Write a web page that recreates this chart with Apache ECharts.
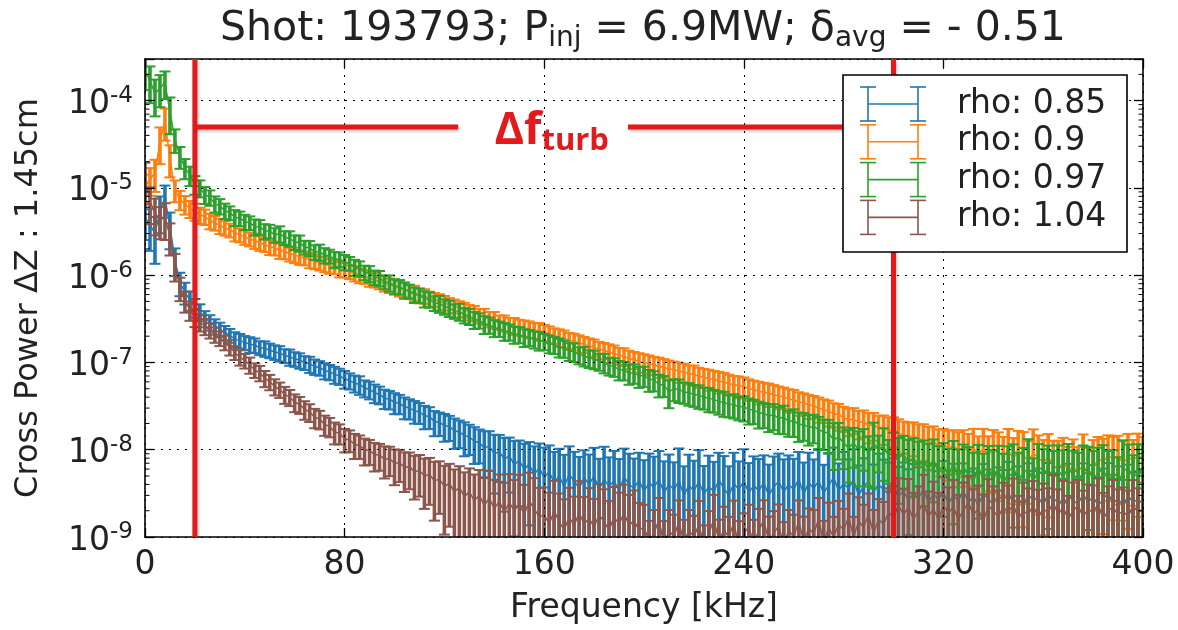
<!DOCTYPE html>
<html>
<head>
<meta charset="utf-8">
<script src="https://cdn.jsdelivr.net/npm/echarts@6/dist/echarts.min.js"></script>
<style>
  html, body { margin: 0; padding: 0; background: #fff; }
  #chart { width: 1178px; height: 630px; }
</style>
</head>
<body>
<div id="chart"></div>
<script>
// Cross-power spectra of the ΔZ = 1.45 cm channel pair, one curve per radial position.
// Spectra are sampled every 2 kHz from 0 to 400 kHz.
const FREQ_STEP_KHZ = 2;

const seriesNames = ['rho: 0.85', 'rho: 0.9', 'rho: 0.97', 'rho: 1.04'];
const seriesColors = ['#1f77b4', '#ff7f0e', '#2ca02c', '#8c564b'];

// rho = 0.85
const power085 = [
  4.6e-6, 3.8e-6, 3.0e-6, 5.5e-6, 7.6e-6, 3.6e-6, 1.5e-6, 8.2e-7, 6.4e-7, 5.2e-7,
  4.3e-7, 3.8e-7, 3.2e-7, 2.9e-7, 2.6e-7, 2.4e-7, 2.2e-7, 2.05e-7, 1.85e-7, 1.78e-7,
  1.7e-7, 1.62e-7, 1.58e-7, 1.48e-7, 1.45e-7, 1.38e-7, 1.32e-7, 1.28e-7, 1.2e-7, 1.16e-7,
  1.1e-7, 1.06e-7, 1.0e-7, 9.6e-8, 9.0e-8, 8.7e-8, 8.1e-8, 7.8e-8, 7.3e-8, 7.0e-8,
  6.5e-8, 6.2e-8, 5.8e-8, 5.6e-8, 5.1e-8, 4.9e-8, 4.5e-8, 4.3e-8, 3.9e-8, 3.8e-8,
  3.5e-8, 3.4e-8, 3.1e-8, 3.0e-8, 2.8e-8, 2.7e-8, 2.45e-8, 2.4e-8, 2.1e-8, 2.05e-8,
  1.9e-8, 1.85e-8, 1.65e-8, 1.6e-8, 1.45e-8, 1.4e-8, 1.25e-8, 1.2e-8, 1.05e-8, 1.1e-8,
  9.0e-9, 9.5e-9, 7.8e-9, 8.5e-9, 6.8e-9, 7.5e-9, 6.0e-9, 6.8e-9, 5.2e-9, 6.2e-9,
  4.8e-9, 5.6e-9, 4.2e-9, 5.0e-9, 3.8e-9, 5.2e-9, 4.4e-9, 3.6e-9, 4.8e-9, 4.0e-9,
  5.0e-9, 3.5e-9, 4.6e-9, 3.8e-9, 4.4e-9, 3.4e-9, 4.9e-9, 4.0e-9, 3.6e-9, 4.5e-9,
  3.3e-9, 4.2e-9, 3.7e-9, 4.6e-9, 3.2e-9, 4.0e-9, 3.5e-9, 4.4e-9, 3.0e-9, 3.9e-9,
  3.4e-9, 4.3e-9, 3.1e-9, 3.8e-9, 3.3e-9, 4.5e-9, 3.6e-9, 3.0e-9, 4.1e-9, 3.5e-9,
  4.4e-9, 3.2e-9, 3.9e-9, 3.4e-9, 4.2e-9, 3.0e-9, 3.8e-9, 4.3e-9, 3.3e-9, 4.0e-9,
  3.5e-9, 4.6e-9, 3.1e-9, 4.2e-9, 3.6e-9, 4.4e-9, 3.2e-9, 3.9e-9, 4.8e-9, 3.4e-9,
  4.1e-9, 3.6e-9, 4.5e-9, 3.0e-9, 3.8e-9, 4.3e-9, 3.3e-9, 4.0e-9, 3.5e-9, 3.1e-9,
  3.7e-9, 2.9e-9, 3.4e-9, 2.6e-9, 3.2e-9, 2.8e-9, 3.5e-9, 2.5e-9, 3.1e-9, 2.7e-9,
  3.3e-9, 2.4e-9, 3.0e-9, 2.6e-9, 3.4e-9, 2.5e-9, 2.9e-9, 2.3e-9, 3.2e-9, 2.7e-9,
  2.4e-9, 3.0e-9, 2.6e-9, 3.3e-9, 2.4e-9, 2.8e-9, 2.2e-9, 3.1e-9, 2.6e-9, 2.9e-9,
  2.3e-9, 3.2e-9, 2.5e-9, 2.8e-9, 2.2e-9, 3.0e-9, 2.6e-9, 2.4e-9, 3.1e-9, 2.5e-9,
  2.9e-9, 2.3e-9, 2.7e-9, 3.2e-9, 2.4e-9, 2.8e-9, 2.2e-9, 3.0e-9, 2.5e-9, 2.7e-9,
  2.4e-9
];
const errPct085 = [
  45, 50, 55, 45, 40, 45, 35, 30, 28, 25,
  24, 22, 21, 20, 20, 19, 19, 18, 20, 19,
  18, 20, 19, 18, 20, 19, 19, 20, 18, 21,
  19, 20, 18, 21, 20, 19, 21, 20, 22, 21,
  23, 21, 22, 24, 22, 23, 24, 23, 25, 24,
  27, 25, 28, 26, 29, 27, 30, 28, 32, 30,
  35, 32, 38, 35, 42, 38, 45, 42, 55, 48,
  65, 55, 75, 62, 85, 70, 95, 80, 110, 90,
  120, 100, 125, 105, 130, 110, 115, 130, 105, 120,
  110, 125, 135, 115, 120, 130, 110, 125, 120, 105,
  130, 115, 125, 110, 130, 120, 105, 135, 115, 125,
  120, 130, 110, 125, 120, 105, 135, 115, 125, 110,
  130, 120, 115, 130, 105, 125, 120, 110, 135, 115,
  125, 105, 130, 120, 115, 125, 110, 135, 120, 105,
  130, 115, 125, 120, 110, 135, 105, 125, 120, 130,
  115, 120, 110, 130, 115, 125, 105, 135, 120, 110,
  125, 115, 130, 120, 105, 125, 110, 135, 115, 120,
  130, 110, 125, 120, 115, 130, 105, 125, 120, 110,
  135, 120, 115, 125, 110, 130, 120, 105, 125, 115,
  130, 110, 125, 120, 115, 130, 105, 125, 120, 110,
  125
];

// rho = 0.9
const power090 = [
  1.05e-5, 1.25e-5, 1.5e-5, 3.4e-5, 5.8e-5, 2.2e-5, 9.5e-6, 7.4e-6, 6.5e-6, 5.8e-6,
  5.4e-6, 4.9e-6, 4.7e-6, 4.2e-6, 4.0e-6, 3.7e-6, 3.5e-6, 3.3e-6, 3.05e-6, 2.9e-6,
  2.75e-6, 2.6e-6, 2.5e-6, 2.35e-6, 2.25e-6, 2.1e-6, 2.05e-6, 1.92e-6, 1.88e-6, 1.75e-6,
  1.72e-6, 1.62e-6, 1.58e-6, 1.5e-6, 1.45e-6, 1.38e-6, 1.35e-6, 1.28e-6, 1.25e-6, 1.18e-6,
  1.16e-6, 1.1e-6, 1.06e-6, 1.0e-6, 9.7e-7, 9.2e-7, 8.9e-7, 8.4e-7, 8.1e-7, 7.7e-7,
  7.5e-7, 7.1e-7, 6.9e-7, 6.5e-7, 6.3e-7, 5.9e-7, 5.8e-7, 5.4e-7, 5.3e-7, 5.0e-7,
  4.85e-7, 4.55e-7, 4.45e-7, 4.15e-7, 4.05e-7, 3.8e-7, 3.7e-7, 3.45e-7, 3.4e-7, 3.15e-7,
  3.1e-7, 2.9e-7, 2.85e-7, 2.7e-7, 2.65e-7, 2.55e-7, 2.5e-7, 2.42e-7, 2.35e-7, 2.3e-7,
  2.22e-7, 2.12e-7, 2.05e-7, 1.95e-7, 1.9e-7, 1.8e-7, 1.75e-7, 1.66e-7, 1.62e-7, 1.52e-7,
  1.5e-7, 1.4e-7, 1.38e-7, 1.3e-7, 1.27e-7, 1.2e-7, 1.18e-7, 1.1e-7, 1.08e-7, 1.02e-7,
  1.0e-7, 9.6e-8, 9.4e-8, 9.0e-8, 8.8e-8, 8.4e-8, 8.3e-8, 7.9e-8, 7.8e-8, 7.4e-8,
  7.3e-8, 6.9e-8, 6.8e-8, 6.5e-8, 6.4e-8, 6.1e-8, 6.0e-8, 5.7e-8, 5.6e-8, 5.4e-8,
  5.3e-8, 5.0e-8, 4.9e-8, 4.65e-8, 4.6e-8, 4.4e-8, 4.3e-8, 4.1e-8, 4.05e-8, 3.8e-8,
  3.75e-8, 3.5e-8, 3.45e-8, 3.25e-8, 3.2e-8, 3.0e-8, 2.9e-8, 2.75e-8, 2.6e-8, 2.5e-8,
  2.35e-8, 2.2e-8, 2.25e-8, 2.05e-8, 2.1e-8, 1.9e-8, 1.95e-8, 1.75e-8, 1.8e-8, 1.65e-8,
  1.7e-8, 1.55e-8, 1.5e-8, 1.4e-8, 1.45e-8, 1.3e-8, 1.35e-8, 1.2e-8, 1.25e-8, 1.1e-8,
  1.15e-8, 1.05e-8, 1.1e-8, 9.8e-9, 1.08e-8, 9.5e-9, 1.05e-8, 9.0e-9, 1.02e-8, 8.8e-9,
  1.0e-8, 9.2e-9, 8.5e-9, 9.6e-9, 8.0e-9, 9.4e-9, 8.6e-9, 7.5e-9, 9.0e-9, 8.2e-9,
  7.0e-9, 8.4e-9, 6.5e-9, 6.0e-9, 7.2e-9, 5.8e-9, 6.4e-9, 5.5e-9, 6.8e-9, 5.2e-9,
  6.0e-9, 8.0e-9, 7.2e-9, 8.6e-9, 7.8e-9, 8.4e-9, 7.0e-9, 8.2e-9, 7.6e-9, 8.5e-9,
  8.0e-9
];
const errPct090 = [
  35, 35, 40, 45, 40, 40, 28, 25, 24, 22,
  22, 21, 20, 20, 19, 20, 19, 18, 20, 18,
  19, 18, 20, 19, 18, 19, 18, 20, 19, 18,
  20, 19, 18, 20, 19, 18, 20, 19, 18, 20,
  19, 18, 20, 19, 18, 20, 19, 18, 20, 19,
  18, 20, 19, 18, 20, 19, 19, 20, 18, 21,
  19, 20, 18, 21, 19, 20, 20, 19, 21, 20,
  22, 19, 21, 20, 22, 21, 21, 22, 20, 23,
  21, 22, 20, 23, 22, 21, 22, 23, 21, 24,
  22, 23, 21, 24, 23, 22, 23, 24, 22, 25,
  24, 25, 23, 26, 24, 25, 23, 26, 24, 25,
  26, 26, 24, 27, 25, 28, 26, 27, 25, 28,
  27, 28, 26, 29, 27, 30, 28, 29, 27, 30,
  29, 30, 28, 31, 29, 32, 30, 33, 31, 34,
  32, 35, 33, 36, 34, 38, 35, 40, 37, 42,
  38, 44, 40, 46, 42, 50, 45, 52, 48, 55,
  50, 58, 52, 62, 55, 60, 65, 58, 70, 62,
  68, 72, 65, 80, 70, 75, 85, 68, 90, 78,
  85, 80, 95, 110, 90, 85, 105, 95, 120, 100,
  115, 75, 85, 70, 80, 72, 78, 85, 70, 80,
  75
];

// rho = 0.97
const power097 = [
  2.2e-4, 1.7e-4, 1.2e-4, 1.4e-4, 1.6e-4, 7.5e-5, 3.6e-5, 2.3e-5, 1.7e-5, 1.4e-5,
  1.1e-5, 1.0e-5, 8.4e-6, 7.8e-6, 6.6e-6, 6.2e-6, 5.5e-6, 5.2e-6, 4.6e-6, 4.5e-6,
  4.1e-6, 4.0e-6, 3.6e-6, 3.6e-6, 3.2e-6, 3.2e-6, 2.9e-6, 3.0e-6, 2.7e-6, 2.65e-6,
  2.4e-6, 2.35e-6, 2.1e-6, 2.05e-6, 1.85e-6, 1.85e-6, 1.7e-6, 1.66e-6, 1.52e-6, 1.53e-6,
  1.42e-6, 1.37e-6, 1.24e-6, 1.2e-6, 1.08e-6, 1.05e-6, 9.5e-7, 9.3e-7, 8.4e-7, 8.2e-7,
  7.5e-7, 7.4e-7, 6.8e-7, 6.6e-7, 6.0e-7, 5.9e-7, 5.4e-7, 5.3e-7, 4.8e-7, 4.75e-7,
  4.4e-7, 4.2e-7, 3.9e-7, 3.85e-7, 3.5e-7, 3.4e-7, 3.1e-7, 3.05e-7, 2.75e-7, 2.7e-7,
  2.5e-7, 2.45e-7, 2.3e-7, 2.25e-7, 2.1e-7, 2.1e-7, 1.95e-7, 1.95e-7, 1.85e-7, 1.8e-7,
  1.75e-7, 1.65e-7, 1.6e-7, 1.5e-7, 1.45e-7, 1.35e-7, 1.33e-7, 1.22e-7, 1.2e-7, 1.12e-7,
  1.1e-7, 1.03e-7, 1.0e-7, 9.2e-8, 9.0e-8, 8.3e-8, 8.2e-8, 7.5e-8, 7.6e-8, 7.0e-8,
  7.1e-8, 6.4e-8, 6.3e-8, 5.6e-8, 5.5e-8, 4.6e-8, 5.0e-8, 4.9e-8, 4.6e-8, 4.5e-8,
  4.3e-8, 4.2e-8, 4.0e-8, 3.9e-8, 3.75e-8, 3.6e-8, 3.5e-8, 3.3e-8, 3.3e-8, 3.1e-8,
  3.1e-8, 2.9e-8, 2.85e-8, 2.65e-8, 2.6e-8, 2.45e-8, 2.5e-8, 2.3e-8, 2.35e-8, 2.1e-8,
  2.15e-8, 1.95e-8, 1.95e-8, 1.8e-8, 1.85e-8, 1.7e-8, 1.6e-8, 1.55e-8, 1.3e-8, 1.4e-8,
  1.2e-8, 1.05e-8, 1.2e-8, 1.0e-8, 1.15e-8, 9.0e-9, 1.2e-8, 1.0e-8, 1.1e-8, 8.5e-9,
  9.5e-9, 8.0e-9, 9.0e-9, 7.0e-9, 8.2e-9, 6.5e-9, 7.5e-9, 6.0e-9, 7.8e-9, 5.5e-9,
  6.8e-9, 5.0e-9, 7.0e-9, 4.8e-9, 6.2e-9, 5.5e-9, 4.2e-9, 6.5e-9, 4.5e-9, 5.8e-9,
  4.6e-9, 6.0e-9, 4.0e-9, 5.6e-9, 6.4e-9, 4.4e-9, 5.5e-9, 6.0e-9, 4.3e-9, 5.8e-9,
  5.2e-9, 6.2e-9, 4.5e-9, 5.9e-9, 4.8e-9, 6.3e-9, 5.0e-9, 4.2e-9, 5.6e-9, 6.0e-9,
  4.6e-9, 5.4e-9, 6.1e-9, 4.4e-9, 5.2e-9, 4.0e-9, 5.7e-9, 6.2e-9, 4.8e-9, 5.5e-9,
  6.0e-9
];
const errPct097 = [
  40, 45, 45, 40, 35, 45, 30, 28, 26, 25,
  24, 22, 22, 20, 21, 20, 20, 18, 21, 19,
  20, 18, 21, 19, 20, 18, 19, 21, 18, 20,
  19, 21, 18, 20, 19, 21, 20, 18, 21, 19,
  20, 18, 21, 20, 19, 21, 19, 20, 18, 21,
  20, 19, 21, 18, 20, 19, 21, 20, 19, 22,
  20, 21, 19, 22, 20, 21, 22, 20, 23, 21,
  22, 20, 23, 21, 22, 21, 23, 21, 22, 24,
  21, 23, 22, 24, 22, 23, 24, 22, 25, 23,
  24, 22, 25, 23, 24, 25, 24, 26, 25, 27,
  26, 28, 26, 29, 27, 35, 28, 30, 27, 29,
  28, 30, 28, 31, 29, 30, 32, 29, 31, 30,
  32, 33, 31, 34, 32, 35, 33, 34, 36, 33,
  35, 37, 35, 38, 36, 40, 38, 42, 55, 45,
  50, 60, 48, 62, 50, 58, 70, 45, 60, 52,
  65, 70, 60, 85, 65, 90, 70, 95, 68, 100,
  75, 105, 80, 110, 85, 95, 120, 75, 100, 90,
  115, 85, 125, 95, 80, 110, 90, 120, 85, 100,
  95, 80, 115, 90, 105, 85, 95, 120, 100, 80,
  110, 95, 85, 120, 90, 105, 125, 85, 80, 110,
  90
];

// rho = 1.04
const power104 = [
  1.3e-5, 7.0e-6, 5.2e-6, 4.3e-6, 4.6e-6, 2.8e-6, 1.3e-6, 7.2e-7, 5.1e-7, 4.0e-7,
  3.3e-7, 2.9e-7, 2.6e-7, 2.35e-7, 2.1e-7, 1.9e-7, 1.7e-7, 1.5e-7, 1.3e-7, 1.15e-7,
  1.05e-7, 9.4e-8, 8.2e-8, 7.6e-8, 6.6e-8, 6.0e-8, 5.3e-8, 4.9e-8, 4.3e-8, 4.0e-8,
  3.5e-8, 3.3e-8, 2.9e-8, 2.7e-8, 2.35e-8, 2.25e-8, 1.95e-8, 1.85e-8, 1.6e-8, 1.55e-8,
  1.33e-8, 1.3e-8, 1.15e-8, 1.12e-8, 1.0e-8, 9.8e-9, 8.8e-9, 8.7e-9, 7.8e-9, 7.9e-9,
  7.0e-9, 7.1e-9, 6.3e-9, 6.4e-9, 5.6e-9, 5.8e-9, 5.0e-9, 5.2e-9, 4.4e-9, 4.6e-9,
  3.8e-9, 4.1e-9, 3.3e-9, 3.7e-9, 2.9e-9, 3.3e-9, 2.6e-9, 3.0e-9, 2.3e-9, 2.8e-9,
  2.1e-9, 2.6e-9, 1.9e-9, 2.5e-9, 2.0e-9, 2.4e-9, 1.8e-9, 2.6e-9, 2.1e-9, 1.7e-9,
  1.8e-9, 1.4e-9, 2.0e-9, 1.5e-9, 1.2e-9, 1.7e-9, 1.35e-9, 1.9e-9, 1.4e-9, 1.65e-9,
  1.3e-9, 1.8e-9, 1.5e-9, 1.2e-9, 1.7e-9, 1.4e-9, 1.9e-9, 1.35e-9, 1.55e-9, 1.2e-9,
  1.3e-9, 0.9e-9, 1.1e-9, 1.6e-9, 0.8e-9, 1.2e-9, 1.0e-9, 1.5e-9, 0.85e-9, 1.2e-9,
  1.0e-9, 1.4e-9, 0.8e-9, 1.1e-9, 1.6e-9, 0.9e-9, 1.2e-9, 1.0e-9, 1.45e-9, 0.8e-9,
  1.1e-9, 1.3e-9, 0.85e-9, 1.2e-9, 1.55e-9, 0.9e-9, 1.1e-9, 1.35e-9, 0.8e-9, 1.2e-9,
  1.0e-9, 1.5e-9, 0.9e-9, 1.25e-9, 1.1e-9, 1.6e-9, 0.85e-9, 1.3e-9, 1.0e-9, 1.4e-9,
  1.2e-9, 1.7e-9, 1.0e-9, 1.5e-9, 1.3e-9, 1.8e-9, 1.1e-9, 1.6e-9, 1.4e-9, 1.9e-9,
  1.7e-9, 2.3e-9, 1.8e-9, 2.2e-9, 1.6e-9, 2.0e-9, 2.4e-9, 1.7e-9, 2.1e-9, 1.6e-9,
  2.3e-9, 1.9e-9, 2.2e-9, 1.6e-9, 2.0e-9, 2.5e-9, 1.8e-9, 2.1e-9, 1.5e-9, 2.3e-9,
  2.0e-9, 1.7e-9, 2.2e-9, 1.9e-9, 2.4e-9, 1.6e-9, 2.0e-9, 1.8e-9, 2.3e-9, 1.7e-9,
  2.1e-9, 1.9e-9, 2.5e-9, 1.8e-9, 2.2e-9, 1.6e-9, 2.0e-9, 2.3e-9, 1.7e-9, 2.1e-9,
  1.9e-9, 2.4e-9, 1.6e-9, 2.0e-9, 2.2e-9, 1.8e-9, 2.0e-9, 1.7e-9, 2.3e-9, 1.9e-9,
  2.1e-9
];
const errPct104 = [
  50, 45, 45, 40, 45, 40, 35, 30, 27, 25,
  23, 22, 21, 20, 20, 19, 19, 20, 18, 20,
  19, 21, 19, 20, 21, 20, 21, 20, 22, 21,
  23, 22, 24, 23, 25, 24, 26, 25, 28, 26,
  30, 28, 32, 30, 34, 32, 36, 34, 40, 37,
  44, 40, 48, 45, 52, 50, 58, 55, 65, 60,
  72, 68, 80, 75, 90, 85, 100, 95, 110, 105,
  115, 100, 120, 110, 125, 115, 120, 110, 125, 115,
  105, 130, 120, 110, 125, 115, 115, 130, 105, 120,
  110, 125, 135, 115, 120, 130, 110, 125, 120, 105,
  80, 70, 85, 75, 90, 70, 80, 75, 85, 70,
  75, 85, 70, 80, 90, 75, 85, 70, 80, 90,
  70, 80, 85, 75, 70, 90, 80, 75, 85, 70,
  80, 75, 90, 70, 85, 75, 80, 90, 70, 85,
  75, 85, 70, 90, 80, 75, 85, 70, 80, 90,
  125, 105, 95, 110, 100, 90, 115, 95, 105, 100,
  110, 95, 105, 90, 110, 100, 95, 85, 105, 100,
  90, 100, 90, 105, 95, 85, 110, 100, 90, 105,
  95, 90, 105, 95, 100, 85, 110, 95, 100, 90,
  105, 95, 100, 90, 105, 95, 85, 100, 95, 90,
  100
];

const seriesPower = [power085, power090, power097, power104];
const seriesErrPct = [errPct085, errPct090, errPct097, errPct104];

// Axis ticks
const xTicks = [0, 80, 160, 240, 320, 400];
const yTickExponents = [-9, -8, -7, -6, -5, -4];
const minorMultipliers = [2, 3, 4, 5, 6, 7, 8, 9];
const Y_MIN = 1e-9;
const Y_MAX = 3e-4;

// Turbulence band annotation (kHz, power level)
const turbBandEdges = [20, 300];
const turbLevel = 5e-5;
const turbArrowGap = [125.5, 193.6];
const turbLabelFreq = 163;

const FONT = 'DejaVu Sans';
const TEXT_COLOR = '#222';
const RED = '#e3191c';

const minorTickValues = [];
yTickExponents.forEach(function (e) {
  minorMultipliers.forEach(function (m) {
    const v = m * Math.pow(10, e);
    if (v < Y_MAX) minorTickValues.push(v);
  });
});

function spectrumRows(values, errPct) {
  return values.map(function (v, i) {
    const r = errPct[i] / 100;
    return [i * FREQ_STEP_KHZ, v, v * (1 + r), Math.max(v * (1 - r), Y_MIN * 0.1)];
  });
}

// Each rho gets its own layer so later curves sit on top of earlier ones
const seriesList = [];
seriesNames.forEach(function (name, k) {
  const rows = spectrumRows(seriesPower[k], seriesErrPct[k]);
  const color = seriesColors[k];
  const layer = 2 + k;
  seriesList.push({
    type: 'line', name: name, data: rows.map(function (r) { return [r[0], r[1]]; }),
    showSymbol: false, symbol: 'none', clip: true, silent: true,
    lineStyle: { color: color, width: 1.5 }, itemStyle: { color: color },
    z: layer
  });
  seriesList.push({
    type: 'custom', name: name, data: rows, clip: true, silent: true, z: layer,
    encode: { x: 0, y: 1 },
    renderItem: function (params, api) {
      const f = api.value(0);
      const top = api.coord([f, api.value(2)]);
      const bot = api.coord([f, api.value(3)]);
      const cap = 5.5;
      const bar = { stroke: color, lineWidth: 3.6 };
      const capStyle = { stroke: color, lineWidth: 2 };
      return {
        type: 'group',
        children: [
          { type: 'line', shape: { x1: top[0], y1: top[1], x2: bot[0], y2: bot[1] }, style: bar },
          { type: 'line', shape: { x1: top[0] - cap, y1: top[1], x2: top[0] + cap, y2: top[1] }, style: capStyle },
          { type: 'line', shape: { x1: bot[0] - cap, y1: bot[1], x2: bot[0] + cap, y2: bot[1] }, style: capStyle }
        ]
      };
    }
  });
});

// Minor log ticks on the left and right frame edges
seriesList.push({
  type: 'custom', data: minorTickValues.map(function (v) { return [0, v]; }),
  silent: true, clip: false, z: 8,
  renderItem: function (params, api) {
    const v = api.value(1);
    const l = api.coord([xTicks[0], v]);
    const r = api.coord([xTicks[xTicks.length - 1], v]);
    const st = { stroke: '#000', lineWidth: 1 };
    return {
      type: 'group',
      children: [
        { type: 'line', shape: { x1: l[0], y1: l[1], x2: l[0] + 4.5, y2: l[1] }, style: st },
        { type: 'line', shape: { x1: r[0] - 4.5, y1: r[1], x2: r[0], y2: r[1] }, style: st }
      ]
    };
  }
});

// Red Δf_turb markers: band edges and the bracket at the turbulence level
const turbSegments = [
  [turbBandEdges[0], Y_MIN, turbBandEdges[0], Y_MAX],
  [turbBandEdges[1], Y_MIN, turbBandEdges[1], Y_MAX],
  [turbBandEdges[0], turbLevel, turbArrowGap[0], turbLevel],
  [turbArrowGap[1], turbLevel, turbBandEdges[1], turbLevel]
];
seriesList.push({
  type: 'custom', data: turbSegments, silent: true, clip: true, z: 9,
  renderItem: function (params, api) {
    const a = api.coord([api.value(0), api.value(1)]);
    const b = api.coord([api.value(2), api.value(3)]);
    return {
      type: 'line',
      shape: { x1: a[0], y1: a[1], x2: b[0], y2: b[1] },
      style: {
        stroke: RED, lineWidth: 5,
        shadowColor: 'rgba(0,0,0,0.25)', shadowBlur: 3, shadowOffsetX: 1, shadowOffsetY: 2
      }
    };
  }
});
seriesList.push({
  type: 'custom', data: [[turbLabelFreq, turbLevel]], silent: true, clip: false, z: 9,
  renderItem: function (params, api) {
    const p = api.coord([api.value(0), api.value(1)]);
    return {
      type: 'text',
      style: {
        text: '{d|Δf}{s|turb}',
        x: p[0], y: p[1] + 4, align: 'center', verticalAlign: 'middle',
        rich: {
          d: { fontSize: 45, fontWeight: 'bold', fontFamily: 'Open Sans', fill: RED, lineHeight: 52 },
          s: { fontSize: 31, fontWeight: 'bold', fontFamily: 'Open Sans', fill: RED, lineHeight: 18, verticalAlign: 'bottom' }
        }
      }
    };
  }
});

// Legend box with error-bar glyphs (drawn above the plot marks)
const LEGEND_Z = 100;
const legendChildren = [{
  type: 'rect', z: LEGEND_Z, shape: { x: 843, y: 75, width: 284, height: 177 },
  style: { fill: '#fff', stroke: '#000', lineWidth: 1.6 }
}];
seriesNames.forEach(function (name, k) {
  const cy = 104 + k * 37.8;
  const st = { stroke: seriesColors[k], lineWidth: 1.6 };
  [868, 918].forEach(function (x) {
    legendChildren.push({ type: 'line', z: LEGEND_Z + 1, shape: { x1: x, y1: cy - 17, x2: x, y2: cy + 17 }, style: st });
    legendChildren.push({ type: 'line', z: LEGEND_Z + 1, shape: { x1: x - 8, y1: cy - 17, x2: x + 8, y2: cy - 17 }, style: st });
    legendChildren.push({ type: 'line', z: LEGEND_Z + 1, shape: { x1: x - 8, y1: cy + 17, x2: x + 8, y2: cy + 17 }, style: st });
  });
  legendChildren.push({ type: 'line', z: LEGEND_Z + 1, shape: { x1: 868, y1: cy, x2: 918, y2: cy }, style: st });
  legendChildren.push({
    type: 'text', z: LEGEND_Z + 1,
    style: { text: name, x: 957, y: cy, verticalAlign: 'middle', align: 'left',
             font: '33px "DejaVu Sans"', fill: TEXT_COLOR }
  });
});

const axisLineStyle = { color: '#000', width: 1.6 };
const majorTick = { show: true, inside: true, length: 9, lineStyle: { color: '#000', width: 1.3 } };
const gridDots = { show: true, lineStyle: { color: '#000', type: [2, 6], width: 1 } };

const chart = echarts.init(document.getElementById('chart'), null, { renderer: 'canvas' });
chart.setOption({
  animation: false,
  backgroundColor: '#fff',
  grid: { left: 145, right: 35, top: 59, bottom: 93, containLabel: false },
  xAxis: [{
    type: 'value', min: xTicks[0], max: xTicks[xTicks.length - 1], interval: xTicks[1] - xTicks[0],
    position: 'bottom', z: 8,
    axisLine: { show: true, onZero: false, lineStyle: axisLineStyle },
    axisTick: majorTick,
    axisLabel: { margin: 12, fontSize: 33, fontFamily: FONT, color: TEXT_COLOR },
    splitLine: gridDots,
    name: 'Frequency [kHz]', nameLocation: 'middle', nameGap: 55,
    nameTextStyle: { fontSize: 33, fontFamily: FONT, color: TEXT_COLOR }
  }, {
    type: 'value', min: xTicks[0], max: xTicks[xTicks.length - 1], interval: xTicks[1] - xTicks[0],
    position: 'top', z: 8,
    axisLine: { show: true, onZero: false, lineStyle: axisLineStyle },
    axisTick: majorTick,
    axisLabel: { show: false }, splitLine: { show: false }
  }],
  yAxis: [{
    type: 'log', logBase: 10, min: Y_MIN, max: Y_MAX, position: 'left', z: 8,
    axisLine: { show: true, onZero: false, lineStyle: axisLineStyle },
    axisTick: majorTick,
    axisLabel: {
      margin: 12,
      padding: [8, 0, 0, 0],
      formatter: function (v) {
        const e = Math.log10(v);
        const r = Math.round(e);
        if (Math.abs(e - r) > 1e-6 || yTickExponents.indexOf(r) < 0) return '';
        return '{b|10}{s|' + r + '}';
      },
      rich: {
        b: { fontSize: 33, fontFamily: FONT, color: TEXT_COLOR, lineHeight: 40 },
        s: { fontSize: 23, fontFamily: FONT, color: TEXT_COLOR, lineHeight: 23, verticalAlign: 'top' }
      }
    },
    splitLine: gridDots,
    name: 'Cross Power ΔZ : 1.45cm', nameLocation: 'middle', nameGap: 100,
    nameTextStyle: { fontSize: 32, fontFamily: FONT, color: TEXT_COLOR }
  }, {
    type: 'log', logBase: 10, min: Y_MIN, max: Y_MAX, position: 'right', z: 8,
    axisLine: { show: true, onZero: false, lineStyle: axisLineStyle },
    axisTick: majorTick,
    axisLabel: { show: false }, splitLine: { show: false }
  }],
  graphic: {
    z: LEGEND_Z,
    elements: [{
      type: 'text', z: LEGEND_Z,
      style: {
        text: '{t|Shot: 193793; P}{u|inj}{t| = 6.9MW; δ}{u|avg}{t| = - 0.51}',
        x: 643, y: 29, align: 'center', verticalAlign: 'middle',
        rich: {
          t: { fontSize: 41, fontFamily: FONT, fill: TEXT_COLOR, lineHeight: 48 },
          u: { fontSize: 28, fontFamily: FONT, fill: TEXT_COLOR, lineHeight: 22, verticalAlign: 'bottom' }
        }
      }
    }, {
      type: 'group', z: LEGEND_Z, children: legendChildren
    }]
  },
  series: seriesList
});
</script>
</body>
</html>
